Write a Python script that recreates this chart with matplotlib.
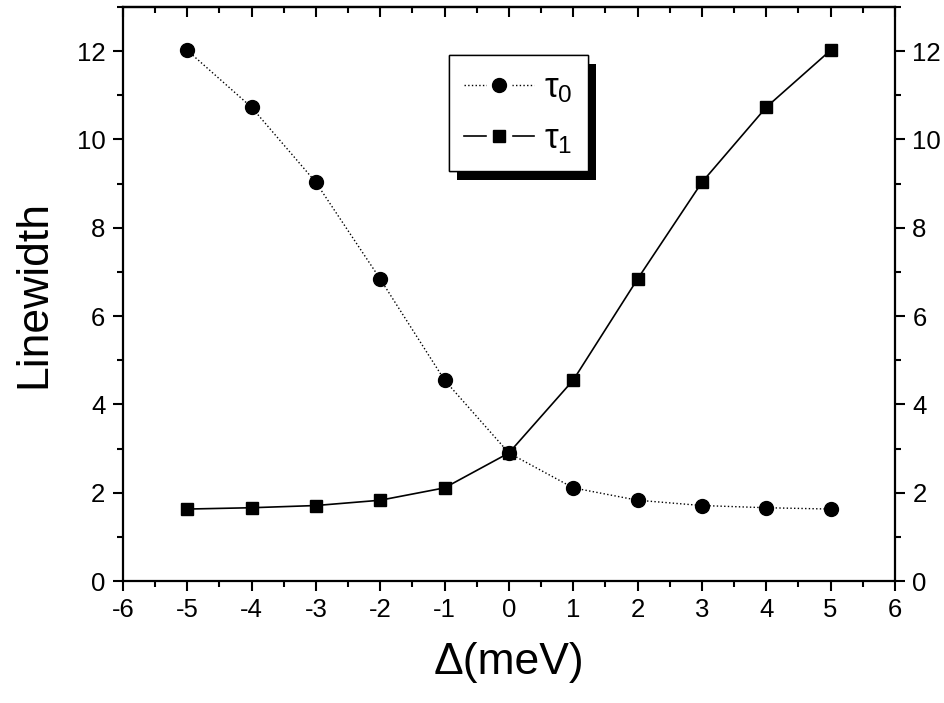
import matplotlib
matplotlib.use('agg')
import matplotlib.pyplot as plt
import matplotlib.patheffects as pe
from matplotlib.lines import Line2D
from matplotlib.legend_handler import HandlerTuple
from matplotlib.ticker import MultipleLocator

plt.rcParams['font.family'] = ['Liberation Sans', 'DejaVu Sans']
plt.rcParams['mathtext.fontset'] = 'custom'
plt.rcParams['mathtext.rm'] = 'Liberation Sans'
plt.rcParams['mathtext.it'] = 'Liberation Sans'
plt.rcParams['axes.unicode_minus'] = False

# detuning (meV)
delta = [-5, -4, -3, -2, -1, 0, 1, 2, 3, 4, 5]
# linewidths
tau0 = [12.02, 10.73, 9.03, 6.84, 4.55, 2.90, 2.11, 1.83, 1.71, 1.66, 1.63]
tau1 = [1.63, 1.66, 1.71, 1.83, 2.11, 2.90, 4.55, 6.84, 9.03, 10.73, 12.02]

fig = plt.figure(figsize=(9.45, 7.03), dpi=100)
ax = fig.add_axes([0.130, 0.1735, 0.817, 0.8165])

ax.plot(delta, tau0, color='k', linestyle=':', linewidth=1.0,
        marker='o', markersize=10)
ax.plot(delta, tau1, color='k', linestyle='-', linewidth=1.2,
        marker='s', markersize=8.5)

ax.set_xlim(-6, 6)
ax.set_ylim(0, 13)
ax.xaxis.set_major_locator(MultipleLocator(1))
ax.xaxis.set_minor_locator(MultipleLocator(0.5))
ax.yaxis.set_major_locator(MultipleLocator(2))
ax.yaxis.set_minor_locator(MultipleLocator(1))

for s in ax.spines.values():
    s.set_linewidth(1.6)

ax.tick_params(axis='both', which='major', direction='out', length=7.5, width=1.5,
               labelsize=18.5, pad=5)
ax.tick_params(axis='both', which='minor', direction='out', length=4, width=1.5)
ax.tick_params(axis='y', which='both', right=True, labelright=True)

# top axis: ticks pointing in, no labels
top = ax.secondary_xaxis('top')
top.xaxis.set_major_locator(MultipleLocator(1))
top.xaxis.set_minor_locator(MultipleLocator(0.5))
top.tick_params(which='major', direction='in', length=7.5, width=1.5, labeltop=False)
top.tick_params(which='minor', direction='in', length=4, width=1.5)
top.spines['top'].set_linewidth(1.6)

ax.set_xlabel('Δ(meV)', fontsize=32, labelpad=14)
ax.set_ylabel('Linewidth', fontsize=32, labelpad=16)

# legend handles: line broken around the marker
h0 = (Line2D([], [], color='k', linestyle=':', linewidth=1.0),
      Line2D([], [], color='w', linestyle='', marker='s', markersize=17),
      Line2D([], [], color='k', linestyle='', marker='o', markersize=10))
h1 = (Line2D([], [], color='k', linestyle='-', linewidth=1.2),
      Line2D([], [], color='w', linestyle='', marker='s', markersize=17),
      Line2D([], [], color='k', linestyle='', marker='s', markersize=8.5))

leg = ax.legend([h0, h1], [r'$\tau_0$', r'$\tau_1$'],
                handler_map={tuple: HandlerTuple(ndivide=1)},
                loc='upper left', bbox_to_anchor=(0.422, 0.916), fontsize=25,
                frameon=True, fancybox=False, edgecolor='k', framealpha=1,
                handlelength=2.0, handletextpad=0.3, borderpad=0.45,
                labelspacing=0.5, borderaxespad=0)
leg.get_frame().set_linewidth(1.0)
leg.get_frame().set_path_effects([
    pe.withSimplePatchShadow(offset=(6, -6), shadow_rgbFace='k', alpha=1.0),
    pe.Normal()])

plt.savefig('out.png', dpi=100)
